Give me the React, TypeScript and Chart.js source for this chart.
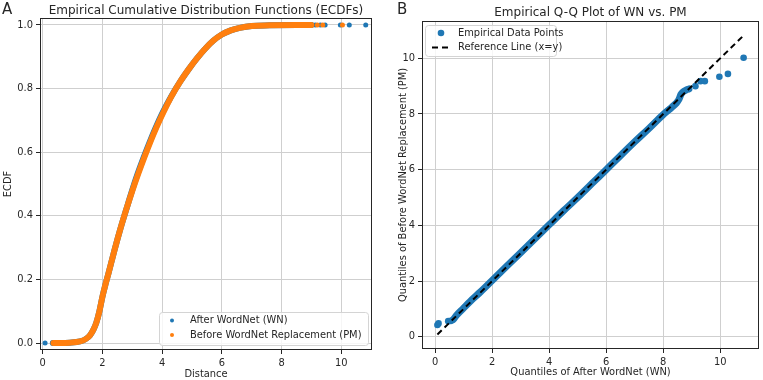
import React, { useEffect, useRef } from "react";
import { Chart, registerables } from "chart.js";

Chart.register(...registerables);

const FONT = "'DejaVu Sans', sans-serif";
const TEXT = "#262626";
const BLUE = "#1f77b4";
const ORANGE = "#ff7f0e";
const GRID = "#cfcfcf";

// ---------- Panel A: ECDFs ----------
const pmCurveX = [0.36, 0.6, 0.9, 1.25, 1.45, 1.59, 1.7, 1.8, 1.9, 2.0, 2.1, 2.2, 2.4, 2.6, 2.8, 3.0, 3.2, 3.4, 3.6, 3.8, 4.04, 4.3, 4.6, 4.9, 5.16, 5.45, 5.72, 6.0, 6.3, 6.6, 7.0, 7.6, 8.5, 9.0];
const pmCurveY = [0, 0, 0.001, 0.005, 0.013, 0.025, 0.042, 0.065, 0.1, 0.145, 0.183, 0.218, 0.29, 0.358, 0.42, 0.478, 0.532, 0.583, 0.631, 0.676, 0.725, 0.773, 0.821, 0.862, 0.894, 0.926, 0.951, 0.97, 0.983, 0.991, 0.997, 0.999, 1.0, 1.0];
const wnCurveX = [0.34, 0.6, 0.9, 1.25, 1.45, 1.59, 1.7, 1.8, 1.9, 2.0, 2.1, 2.2, 2.4, 2.6, 2.8, 2.99, 3.18, 3.38, 3.58, 3.78, 4.02, 4.29, 4.6, 4.9, 5.16, 5.45, 5.72, 6.0, 6.3, 6.6, 7.0, 7.6, 8.5, 9.0];
const wnCurveY = [0, 0, 0.001, 0.005, 0.013, 0.025, 0.042, 0.065, 0.1, 0.145, 0.183, 0.218, 0.29, 0.358, 0.42, 0.478, 0.532, 0.583, 0.631, 0.676, 0.725, 0.773, 0.821, 0.862, 0.894, 0.926, 0.951, 0.97, 0.983, 0.991, 0.997, 0.999, 1.0, 1.0];
const wnTailX = [0.08, 9.13, 9.3, 9.46, 9.97, 10.27, 10.82];
const wnTailY = [0, 1, 1, 1, 1, 1, 1];
const pmTailX = [9.2, 9.38, 10.04];
const pmTailY = [1, 1, 1];
const ecdfXTicks = [0, 2, 4, 6, 8, 10];
const ecdfXTickLabels = ["0", "2", "4", "6", "8", "10"];
const ecdfYTicks = [0, 0.2, 0.4, 0.6, 0.8, 1.0];
const ecdfYTickLabels = ["0.0", "0.2", "0.4", "0.6", "0.8", "1.0"];

// ---------- Panel B: Q-Q ----------
const qqBandX = [0.64, 0.76, 0.99, 1.22, 1.6, 2.0, 2.5, 3.0, 3.5, 4.0, 4.5, 5.0, 5.5, 6.0, 6.5, 7.0, 7.5, 8.0, 8.3, 8.45, 8.55, 8.62, 8.7, 8.8, 8.9];
const qqBandY = [0.62, 0.78, 1.02, 1.26, 1.62, 2.02, 2.52, 3.02, 3.52, 4.02, 4.52, 5.0, 5.5, 6.0, 6.5, 7.0, 7.48, 7.98, 8.24, 8.38, 8.52, 8.7, 8.8, 8.86, 8.9];
const qqOutX = [0.08, 0.12, 0.46, 0.55, 9.13, 9.31, 9.46, 9.97, 10.27, 10.82];
const qqOutY = [0.42, 0.48, 0.56, 0.57, 9.0, 9.18, 9.18, 9.34, 9.44, 10.02];
const refLineX = [0.08, 10.82];
const refLineY = [0.08, 10.82];
const qqXTicks = [0, 2, 4, 6, 8, 10];
const qqXTickLabels = ["0", "2", "4", "6", "8", "10"];
const qqYTicks = [0, 2, 4, 6, 8, 10];
const qqYTickLabels = ["0", "2", "4", "6", "8", "10"];

const pts = (xs: number[], ys: number[]) => xs.map((x, i) => ({ x, y: ys[i] }));

type LegendItem = { kind: "dot" | "dash"; color: string; text: string; r?: number };
type DecorCfg = {
  id: string;
  title: string;
  titleDy: number;
  letter: string;
  letterX: number;
  legend: LegendItem[];
  legendBox: (a: any) => { x: number; y: number; w: number; h: number };
  rowY: number[];
  markerDx: number;
  textDx: number;
};

function decor(cfg: DecorCfg) {
  return {
    id: cfg.id,
    afterDatasetsDraw(chart: any) {
      const { ctx, chartArea: a } = chart;
      ctx.save();
      // frame
      ctx.strokeStyle = TEXT;
      ctx.lineWidth = 1;
      ctx.strokeRect(a.left + 0.5, a.top + 0.5, a.right - a.left - 1, a.bottom - a.top - 1);
      // title
      ctx.fillStyle = TEXT;
      ctx.font = `12px ${FONT}`;
      ctx.textAlign = "center";
      ctx.textBaseline = "alphabetic";
      ctx.fillText(cfg.title, (a.left + a.right) / 2, a.top - cfg.titleDy);
      // panel letter
      ctx.font = `15px ${FONT}`;
      ctx.textAlign = "left";
      ctx.fillText(cfg.letter, cfg.letterX, 14);
      // legend
      const b = cfg.legendBox(a);
      ctx.beginPath();
      (ctx as any).roundRect(b.x + 0.5, b.y + 0.5, b.w, b.h, 3);
      ctx.fillStyle = "rgba(255,255,255,0.8)";
      ctx.fill();
      ctx.strokeStyle = "#d4d4d4";
      ctx.lineWidth = 1;
      ctx.stroke();
      ctx.font = `9.9px ${FONT}`;
      ctx.textBaseline = "middle";
      cfg.legend.forEach((it, i) => {
        const y = b.y + cfg.rowY[i];
        const mx = b.x + cfg.markerDx;
        if (it.kind === "dot") {
          ctx.beginPath();
          ctx.arc(mx, y, it.r || 2, 0, Math.PI * 2);
          ctx.fillStyle = it.color;
          ctx.fill();
        } else {
          ctx.beginPath();
          ctx.setLineDash([6, 4]);
          ctx.moveTo(mx - 9, y);
          ctx.lineTo(mx + 9, y);
          ctx.strokeStyle = it.color;
          ctx.lineWidth = 2;
          ctx.stroke();
          ctx.setLineDash([]);
        }
        ctx.fillStyle = TEXT;
        ctx.fillText(it.text, b.x + cfg.textDx, y);
      });
      ctx.restore();
    },
  };
}

function axis(opts: {
  min: number;
  max: number;
  ticks: number[];
  labels: string[];
  title: string;
  titlePad: any;
  size: number;
  horizontal: boolean;
}) {
  return {
    type: "linear",
    min: opts.min,
    max: opts.max,
    afterBuildTicks: (s: any) => {
      s.ticks = opts.ticks.map((v) => ({ value: v }));
    },
    afterFit: (s: any) => {
      if (opts.horizontal) s.height = opts.size;
      else s.width = opts.size;
    },
    ticks: {
      autoSkip: false,
      maxRotation: 0,
      padding: 3,
      color: TEXT,
      font: { family: FONT, size: 9.9 },
      callback: (_v: any, i: number) => opts.labels[i],
    },
    grid: { color: GRID, lineWidth: 1, tickColor: TEXT, tickLength: 4, drawTicks: true },
    border: { display: false },
    title: {
      display: true,
      text: opts.title,
      color: TEXT,
      font: { family: FONT, size: 9.9, lineHeight: 1.2 },
      padding: opts.titlePad,
    },
  };
}

const band = (label: string, data: any[], color: string, width: number) => ({
  label,
  data,
  showLine: true,
  borderColor: color,
  backgroundColor: color,
  borderWidth: width,
  pointRadius: 0,
  cubicInterpolationMode: "monotone",
  borderCapStyle: "round",
  borderJoinStyle: "round",
});

const dots = (label: string, data: any[], color: string, r: number) => ({
  label,
  data,
  showLine: false,
  borderColor: color,
  backgroundColor: color,
  pointRadius: r,
  pointBorderWidth: 0,
});

export default function App() {
  const leftRef = useRef<HTMLCanvasElement>(null);
  const rightRef = useRef<HTMLCanvasElement>(null);

  useEffect(() => {
    const left = new Chart(leftRef.current as HTMLCanvasElement, {
      type: "scatter",
      data: {
        datasets: [
          band("PM band", pts(pmCurveX, pmCurveY), ORANGE, 6),
          dots("Before WordNet Replacement (PM)", pts(pmTailX, pmTailY), ORANGE, 2.5),
          band("WN band", pts(wnCurveX, wnCurveY), BLUE, 6),
          dots("After WordNet (WN)", pts(wnTailX, wnTailY), BLUE, 2.5),
        ] as any,
      },
      options: {
        animation: false,
        responsive: false,
        devicePixelRatio: 1,
        events: [],
        layout: { padding: { top: 18, left: 0, right: 18, bottom: 0 } },
        plugins: { legend: { display: false }, tooltip: { enabled: false }, title: { display: false } },
        scales: {
          x: axis({ min: -0.09, max: 11.03, ticks: ecdfXTicks, labels: ecdfXTickLabels, title: "Distance", titlePad: { top: 0, bottom: 0 }, size: 30, horizontal: true }),
          y: axis({ min: -0.022, max: 1.022, ticks: ecdfYTicks, labels: ecdfYTickLabels, title: "ECDF", titlePad: { top: 2, bottom: 0 }, size: 40, horizontal: false }),
        } as any,
      },
      plugins: [
        decor({
          id: "decorA",
          title: "Empirical Cumulative Distribution Functions (ECDFs)",
          titleDy: 4,
          letter: "A",
          letterX: 2,
          legend: [
            { kind: "dot", color: BLUE, text: "After WordNet (WN)", r: 2 },
            { kind: "dot", color: ORANGE, text: "Before WordNet Replacement (PM)", r: 2 },
          ],
          legendBox: (a: any) => ({ x: a.right - 4 - 209, y: a.bottom - 5 - 33, w: 209, h: 33 }),
          rowY: [8.5, 23],
          markerDx: 13,
          textDx: 31,
        }),
      ],
    });

    const right = new Chart(rightRef.current as HTMLCanvasElement, {
      type: "scatter",
      data: {
        datasets: [
          {
            label: "Reference Line (x=y)",
            data: pts(refLineX, refLineY),
            showLine: true,
            borderColor: "#000000",
            borderWidth: 2,
            borderDash: [6, 4],
            pointRadius: 0,
          },
          dots("Empirical Data Points", pts(qqOutX, qqOutY), BLUE, 3.3),
          band("QQ band", pts(qqBandX, qqBandY), BLUE, 7),
        ] as any,
      },
      options: {
        animation: false,
        responsive: false,
        devicePixelRatio: 1,
        events: [],
        layout: { padding: { top: 21, left: 0, right: 3, bottom: 0 } },
        plugins: { legend: { display: false }, tooltip: { enabled: false }, title: { display: false } },
        scales: {
          x: axis({ min: -0.46, max: 11.36, ticks: qqXTicks, labels: qqXTickLabels, title: "Quantiles of After WordNet (WN)", titlePad: { top: 0, bottom: 2 }, size: 31, horizontal: true }),
          y: axis({ min: -0.44, max: 11.34, ticks: qqYTicks, labels: qqYTickLabels, title: "Quantiles of Before WordNet Replacement (PM)", titlePad: { top: 7, bottom: 0 }, size: 32, horizontal: false }),
        } as any,
      },
      plugins: [
        decor({
          id: "decorB",
          title: "Empirical Q-Q Plot of WN vs. PM",
          titleDy: 5,
          letter: "B",
          letterX: 7,
          legend: [
            { kind: "dot", color: BLUE, text: "Empirical Data Points", r: 3.3 },
            { kind: "dash", color: "#000000", text: "Reference Line (x=y)" },
          ],
          legendBox: (a: any) => ({ x: a.left + 3, y: a.top + 4, w: 131, h: 31 }),
          rowY: [8, 22.5],
          markerDx: 16,
          textDx: 33,
        }),
      ],
    });

    return () => {
      left.destroy();
      right.destroy();
    };
  }, []);

  return (
    <div style={{ position: "fixed", left: 0, top: 0, width: 763, height: 380, background: "#ffffff" }}>
      <canvas ref={leftRef} width={390} height={380} style={{ position: "absolute", left: 0, top: 0 }} />
      <canvas ref={rightRef} width={373} height={380} style={{ position: "absolute", left: 390, top: 0 }} />
    </div>
  );
}
